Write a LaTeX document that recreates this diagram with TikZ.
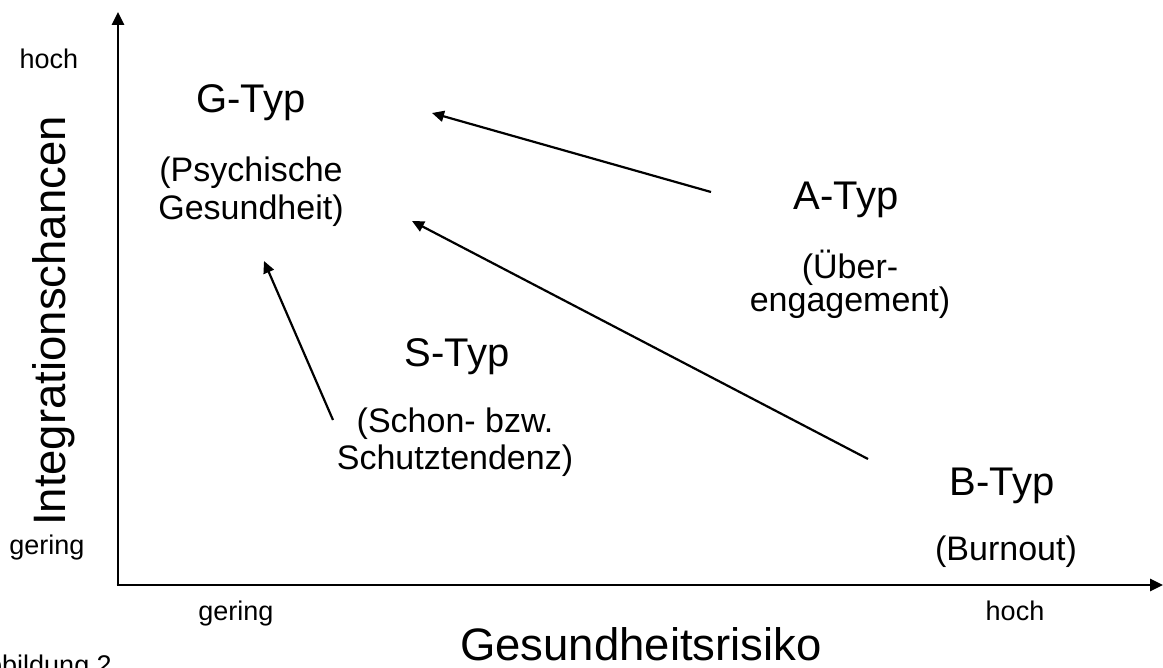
\documentclass[tikz,border=0pt]{standalone}
\usepackage{fontspec}
\setmainfont{Liberation Sans}
\usetikzlibrary{arrows.meta}
\tikzset{
  typtitle/.style={font=\fontsize{40}{46}\selectfont, anchor=base, inner sep=0pt},
  typdesc/.style={font=\fontsize{34}{40}\selectfont, anchor=base, inner sep=0pt},
  smalllabel/.style={font=\fontsize{27}{32}\selectfont, anchor=base, inner sep=0pt},
  axistitle/.style={font=\fontsize{45.5}{52}\selectfont, anchor=base, inner sep=0pt},
  axisline/.style={line width=2.6pt, -{Triangle[length=13pt,width=12pt]}},
  moveline/.style={line width=2.2pt, -{Triangle[length=12pt,width=11pt]}}
}
\begin{document}
\begin{tikzpicture}[x=1pt,y=-1pt]
\useasboundingbox (0,0) rectangle (1163,668);
\clip (0,0) rectangle (1163,668);
\fill[white] (0,0) rectangle (1163,668);
% axes
\coordinate (origin) at (118,585);
\coordinate (ytop) at (118,12);
\coordinate (xend) at (1163,585);
\draw[axisline] (origin) -- (ytop);
\draw[axisline] ([xshift=-1.3pt]origin) -- (xend);
% axis labels
\node[smalllabel] (yhoch) at (49,69) {hoch};
\node[smalllabel] (ygering) at (47,554) {gering};
\node[smalllabel] (xgering) at (236,620) {gering};
\node[smalllabel] (xhoch) at (1015,620) {hoch};
\node[axistitle, rotate=90] (ytitle) at (65,321) {Integrationschancen};
\node[axistitle] (xtitle) at (641,660) {Gesundheitsrisiko};
\node[smalllabel, anchor=base west] (caption) at (-31,674) {Abbildung 2};
% types
\node[typtitle] (gtyp) at (251,113) {G-Typ};
\node[typdesc] (gdesc1) at (251,182) {(Psychische};
\node[typdesc] (gdesc2) at (251,220) {Gesundheit)};
\node[typtitle] (atyp) at (846,210) {A-Typ};
\node[typdesc] (adesc1) at (850,279) {(Über-};
\node[typdesc] (adesc2) at (850,312) {engagement)};
\node[typtitle] (styp) at (457,367) {S-Typ};
\node[typdesc] (sdesc1) at (455,432) {(Schon- bzw.};
\node[typdesc] (sdesc2) at (455,470) {Schutztendenz)};
\node[typtitle] (btyp) at (1002,496) {B-Typ};
\node[typdesc] (bdesc) at (1006,560) {(Burnout)};
% arrows
\coordinate (aStart) at (711,192);
\coordinate (aEnd) at (432,113);
\coordinate (bStart) at (868,459);
\coordinate (bEnd) at (412,221);
\coordinate (sStart) at (333,420);
\coordinate (sEnd) at (264,261);
\draw[moveline] (aStart) -- (aEnd);
\draw[moveline] (bStart) -- (bEnd);
\draw[moveline] (sStart) -- (sEnd);
\end{tikzpicture}
\end{document}
